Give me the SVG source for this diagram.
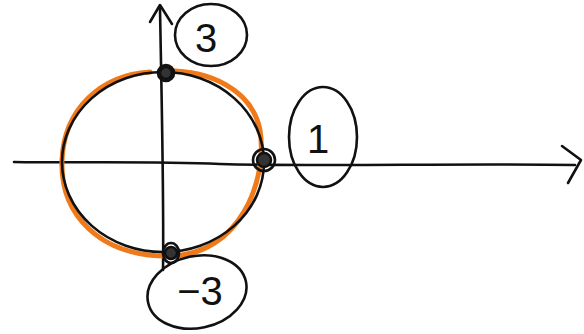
<svg xmlns="http://www.w3.org/2000/svg" width="584" height="334" viewBox="0 0 584 334">
<style>
.ink{fill:none;stroke:#111;stroke-width:2.6;stroke-linecap:round;stroke-linejoin:round}
.orange{fill:none;stroke:#f07a1a;stroke-width:5;stroke-linecap:round}
.lbl{font-family:"Liberation Sans",Arial,sans-serif;font-size:40px;fill:#111}
.dot{fill:#333;stroke:#111;stroke-width:2.5}
</style>
<rect width="584" height="334" fill="#fff"/>
<g id="axes">
<path class="ink" d="M14,162 C80,163 150,161 220,164 C330,167 450,163 575,165"/>
<path class="ink" d="M562,146 L581,160 L568,183"/>
<path class="ink" d="M163,270 C164,200 162,120 160,8"/>
<path class="ink" d="M150,22 L160,5 L172,24"/>
</g>
<g id="circle">
<path class="orange" d="M160,71 C210,69 252,90 260,130 C268,180 240,255 170,256 C100,257 60,215 62,160 C64,110 100,75 150,72"/>
<ellipse class="ink" cx="163" cy="162" rx="101" ry="90"/>
</g>
<g id="points">
<circle class="dot" cx="166" cy="73" r="6"/>
<circle class="ink" cx="166" cy="73" r="8"/>
<circle class="dot" cx="264" cy="160" r="7"/>
<circle class="ink" cx="264" cy="160" r="11"/>
<circle class="dot" cx="171" cy="253" r="6"/>
<ellipse class="ink" cx="171" cy="253" rx="8" ry="10"/>
</g>
<g id="label3">
<ellipse class="ink" cx="211" cy="35" rx="36" ry="31"/>
<text class="lbl" x="206" y="52" text-anchor="middle">3</text>
</g>
<g id="label1">
<ellipse class="ink" cx="323" cy="137" rx="34" ry="50"/>
<text class="lbl" x="318" y="153" text-anchor="middle">1</text>
</g>
<g id="labelm3">
<ellipse class="ink" cx="197" cy="292" rx="50" ry="36" transform="rotate(-12 197 292)"/>
<text class="lbl" x="200" y="305" text-anchor="middle">−3</text>
</g>
</svg>
